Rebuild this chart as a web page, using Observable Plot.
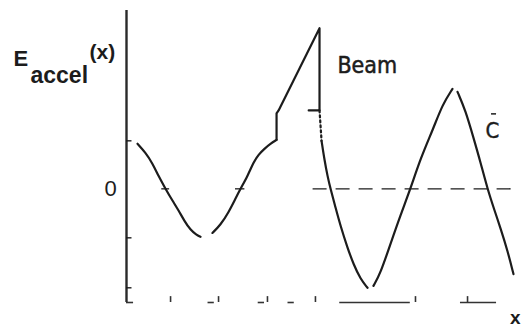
<!DOCTYPE html>
<html>
<head>
<meta charset="utf-8">
<script src="https://cdn.jsdelivr.net/npm/d3@7"></script>
<script src="https://cdn.jsdelivr.net/npm/@observablehq/plot@0.6"></script>
<style>
  body { margin: 0; background: #fff; }
  #chart svg { display: block; }
</style>
</head>
<body>
<div id="chart"></div>
<script>
// Accelerating field E_accel(x) along the bunch: field ahead of the beam,
// the beam's own (triangular) profile and the wake behind it.
// x in arbitrary units (wake period = 10), E normalised to the wake amplitude.

// field ahead of / inside the bunch, two pieces
const frontX1 = [0.70, 1.21, 1.66, 2.04, 2.49, 2.93, 3.32, 3.70, 4.08, 4.46, 4.72];
const frontY1 = [0.46, 0.37, 0.26, 0.13, 0.00, -0.12, -0.22, -0.33, -0.42, -0.47, -0.49];
const frontX2 = [5.48, 5.99, 6.51, 6.95, 7.27, 7.72, 8.10, 8.42, 8.80, 9.18, 9.57];
const frontY2 = [-0.45, -0.37, -0.24, -0.10, 0.00, 0.13, 0.27, 0.35, 0.41, 0.46, 0.50];

// step up to the beam and the triangular beam profile
const beamX = [9.57, 9.57, 9.70, 12.31, 12.31, 11.62];
const beamY = [0.50, 0.77, 0.80, 1.64, 0.80, 0.80];

// dotted link from the beam tail into the wake
const linkX = [12.31, 12.44];
const linkY = [0.80, 0.49];

// wake behind the beam, three pieces
const rearX1 = [12.44, 12.63, 12.82, 13.01, 13.33, 13.65, 14.09, 14.48, 14.92, 15.37];
const rearY1 = [0.49, 0.29, 0.13, 0.00, -0.19, -0.38, -0.60, -0.77, -0.92, -1.01];
const rearX2 = [15.75, 16.20, 16.84, 17.47, 18.11, 18.75, 19.58, 20.15, 20.79];
const rearY2 = [-0.99, -0.86, -0.56, -0.27, 0.00, 0.31, 0.62, 0.86, 1.02];
const rearX3 = [21.11, 21.62, 22.13, 22.58, 23.02, 23.47, 23.85, 24.30, 24.68];
const rearY3 = [0.99, 0.80, 0.52, 0.27, 0.00, -0.22, -0.40, -0.63, -0.87];

// axes
const yTop = 1.82, yBottom = -1.16;
const leftTicks = [0.49, -0.50, -1.01];
const bottomTicks = [2.81, 5.87, 8.99, 12.05, 18.43, 21.75];
const bottomFrom = [0.00, 5.20, 8.40, 10.30, 13.60, 21.30];
const bottomTo   = [0.45, 5.60, 8.80, 10.70, 18.10, 23.60];
const zeroTickFrom = [2.25, 6.95];
const zeroTickTo   = [2.75, 7.55];
const zeroLineFrom = 11.9, zeroLineTo = 25.1;

const toRows = (xs, ys, part) => xs.map((x, i) => ({x, y: ys[i], part}));
const smooth = [
  ...toRows(frontX1, frontY1, "f1"),
  ...toRows(frontX2, frontY2, "f2"),
  ...toRows(rearX1, rearY1, "r1"),
  ...toRows(rearX2, rearY2, "r2"),
  ...toRows(rearX3, rearY3, "r3")
];
const beam = toRows(beamX, beamY, "beam");
const link = toRows(linkX, linkY, "link");
const bottomSegs = bottomFrom.map((a, i) => ({a, b: bottomTo[i]}));
const zeroTicks = zeroTickFrom.map((a, i) => ({a, b: zeroTickTo[i]}));

const ink = "#1c1c1c";
const sans = "Liberation Sans, Arial, sans-serif";
const cond = "DejaVu Sans Condensed, DejaVu Sans, sans-serif";

const chart = Plot.plot({
  width: 525,
  height: 331,
  marginLeft: 126,
  marginRight: 7,
  marginTop: 10,
  marginBottom: 29,
  x: {domain: [0, 25], axis: null},
  y: {domain: [yBottom, yTop], axis: null},
  marks: [
    // vertical axis
    Plot.ruleX([0], {y1: () => yBottom, y2: () => yTop, stroke: "#2a2a2a", strokeWidth: 2.4}),
    Plot.ruleY(leftTicks, {y: d => d, x1: () => 0, x2: () => 0.35, stroke: ink, strokeWidth: 1.4}),
    // broken baseline with its ticks
    Plot.ruleY(bottomSegs, {y: () => yBottom, x1: "a", x2: "b", stroke: "#333", strokeWidth: 1.6}),
    Plot.ruleX(bottomTicks, {x: d => d, y1: () => yBottom, y2: () => yBottom + 0.06, stroke: "#333", strokeWidth: 1.6}),
    // zero level
    Plot.ruleY(zeroTicks, {y: () => 0, x1: "a", x2: "b", stroke: ink, strokeWidth: 1.3}),
    Plot.ruleY([0], {x1: () => zeroLineFrom, x2: () => zeroLineTo, stroke: ink, strokeWidth: 1.4, strokeDasharray: "14,9"}),
    // field curves
    Plot.line(smooth, {x: "x", y: "y", z: "part", curve: "basis", stroke: ink, strokeWidth: 2.2}),
    Plot.line(beam, {x: "x", y: "y", curve: "linear", stroke: ink, strokeWidth: 2.2}),
    Plot.line(link, {x: "x", y: "y", stroke: ink, strokeWidth: 2.2, strokeDasharray: "2,3"}),
    // labels
    Plot.text(["E"], {frameAnchor: "top-left", dx: -113, dy: 55, textAnchor: "start", lineAnchor: "bottom",
      fontFamily: sans, fontWeight: "bold", fontSize: 22, fill: ink}),
    Plot.text(["accel"], {frameAnchor: "top-left", dx: -96, dy: 72, textAnchor: "start", lineAnchor: "bottom",
      fontFamily: sans, fontWeight: "bold", fontSize: 23, fill: ink}),
    Plot.text(["(x)"], {frameAnchor: "top-left", dx: -37, dy: 48, textAnchor: "start", lineAnchor: "bottom",
      fontFamily: sans, fontWeight: "bold", fontSize: 21, fill: ink, style: "letter-spacing:3px"}),
    Plot.text(["0"], {x: () => 0, y: () => 0, dx: -16, textAnchor: "middle",
      fontFamily: sans, fontSize: 22, fill: ink}),
    Plot.text(["Beam"], {x: () => 13.45, y: () => 1.18, textAnchor: "start", lineAnchor: "bottom",
      fontFamily: cond, fontSize: 23, fill: ink, stroke: ink, strokeWidth: 0.5}),
    Plot.text(["C"], {x: () => 23.34, y: () => 0.52, textAnchor: "middle", lineAnchor: "bottom",
      fontFamily: cond, fontSize: 22, fill: ink, stroke: ink, strokeWidth: 0.4}),
    Plot.ruleY([0.765], {y: d => d, x1: () => 23.28, x2: () => 23.6, stroke: ink, strokeWidth: 1.5}),
    Plot.text(["x"], {x: () => 24.8, y: () => yBottom, dy: 21, textAnchor: "middle", lineAnchor: "bottom",
      fontFamily: sans, fontWeight: "bold", fontSize: 19, fill: ink})
  ]
});

document.getElementById("chart").append(chart);
</script>
</body>
</html>
